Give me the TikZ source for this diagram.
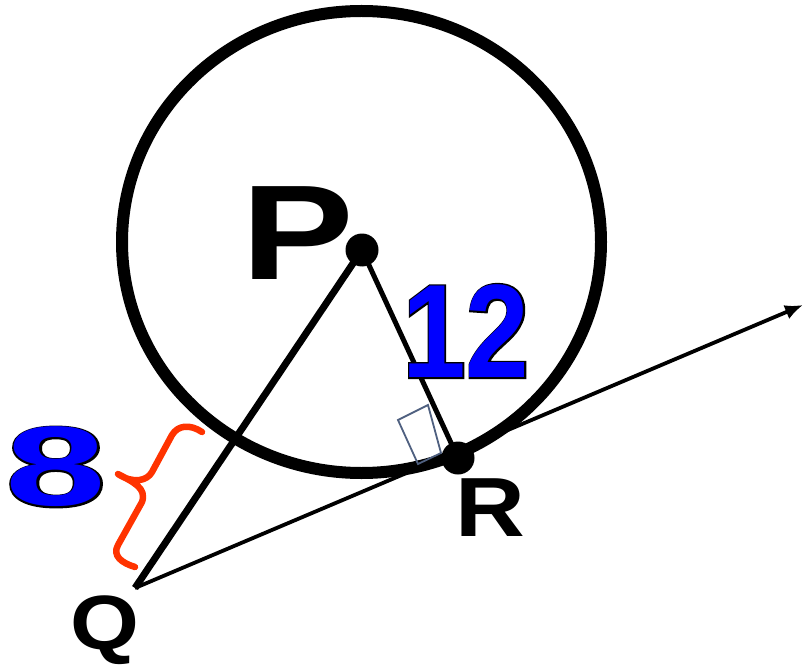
\documentclass[tikz,border=0pt]{standalone}
\usepackage{fontspec}
\setmainfont{Liberation Sans}
\newfontfamily\outlinefont{Liberation Sans Bold}[FakeBold=2.5]
\usetikzlibrary{arrows.meta}
\definecolor{bracered}{HTML}{FF3300}
\definecolor{markgray}{HTML}{4F6080}
\definecolor{numblue}{HTML}{0000FF}
\tikzset{
  lbl/.style={inner sep=0pt, text=black},
  numlbl/.style={inner sep=0pt, text=numblue},
  numout/.style={inner sep=0pt, text=black},
  dotpt/.style={circle, fill=black, inner sep=0pt, minimum size=33pt},
}
\begin{document}
\begin{tikzpicture}[x=1pt,y=-1pt]
\useasboundingbox (0,0) rectangle (803,671);
% circle
\draw[line width=12pt] (361.5,242) ellipse [x radius=239.5, y radius=231];
% points
\coordinate (P) at (362,250);
\coordinate (R) at (458,458);
\coordinate (Q) at (135,588);
\coordinate (T) at (803,305);
% right-angle mark
\draw[markgray, line width=1.8pt, line join=miter] (441,453) -- (428,405) -- (398,420) -- (418,464) -- cycle;
% segments
\draw[line width=7pt] (Q) -- (P);
\draw[line width=5pt] (P) -- (R);
\draw[line width=3.8pt, -{Latex[length=18pt,width=15pt]}] (Q) -- (T);
% dots
\node[dotpt] (Pdot) at (P) {};
\node[dotpt] (Rdot) at (R) {};
% brace
\draw[bracered, line width=6.5pt, line cap=round, line join=round]
  (202,432) .. controls (190,424) and (178,425) .. (172,435) -- (152,472)
  .. controls (147,481) and (133,484) .. (118,474)
  .. controls (133,482) and (147,488) .. (142,502) -- (118,545)
  .. controls (112,556) and (122,563) .. (135,567);
% labels
\node[lbl, font=\fontsize{135}{135}\selectfont\bfseries, xscale=1.25] (Plbl) at (298,233) {P};
\node[lbl, font=\fontsize{84}{84}\selectfont\bfseries, xscale=1.15] (Rlbl) at (490,508) {R};
\node[lbl, font=\fontsize{77}{77}\selectfont\bfseries, xscale=1.15] (Qlbl) at (105,630) {Q};
\node[numout, font=\fontsize{113}{113}\selectfont\outlinefont, xscale=1.6] (eightout) at (56,467) {8};
\node[numlbl, font=\fontsize{113}{113}\selectfont\bfseries, xscale=1.6] (eight) at (56,467) {8};
\node[numout, font=\fontsize{133}{133}\selectfont\outlinefont, xscale=0.86] (twelveout) at (466,331) {12};
\node[numlbl, font=\fontsize{133}{133}\selectfont\bfseries, xscale=0.86] (twelve) at (466,331) {12};
\end{tikzpicture}
\end{document}
